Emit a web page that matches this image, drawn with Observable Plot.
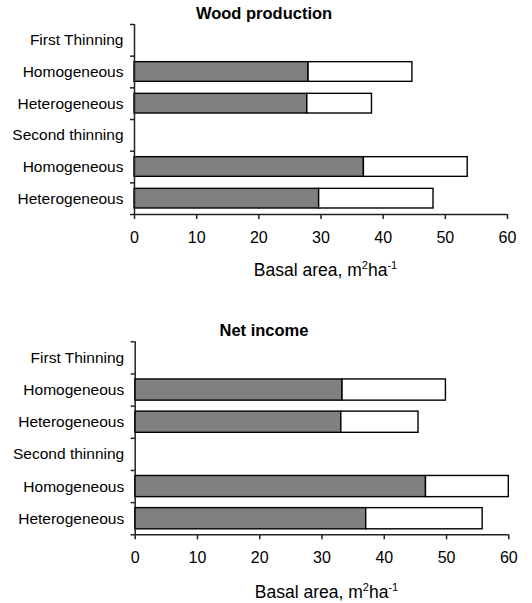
<!DOCTYPE html>
<html>
<head>
<meta charset="utf-8">
<script src="https://cdn.jsdelivr.net/npm/d3@7"></script>
<script src="https://cdn.jsdelivr.net/npm/@observablehq/plot@0.6"></script>
<style>
  body { margin: 0; background: #fff; font-family: "Liberation Sans", Arial, sans-serif; }
  #root { position: relative; width: 532px; height: 603px; overflow: hidden; }
  .panel { position: absolute; left: 0; }
  .title { position: absolute; left: 0; width: 532px; text-align: center; font-weight: bold; font-size: 16.5px; color: #000; line-height: 1; padding-left: 0; }
  .xlabel { position: absolute; text-align: center; font-size: 17.5px; color: #000; line-height: 1; }
  .xlabel sup { font-size: 11px; vertical-align: 0; position: relative; top: -7px; }
</style>
</head>
<body>
<div id="root"></div>
<script>
const rowLabels = ["First Thinning", "Homogeneous", "Heterogeneous", "Second thinning", "Homogeneous", "Heterogeneous"];
const woodRemaining = [null, 28.0, 27.8, null, 36.9, 29.7];
const woodTotal     = [null, 44.7, 38.2, null, 53.6, 48.1];
const incomeRemaining = [null, 33.3, 33.1, null, 46.7, 37.1];
const incomeTotal     = [null, 49.9, 45.5, null, 60.0, 55.8];
const xTicks = [0, 10, 20, 30, 40, 50, 60];
const panelTitles = ["Wood production", "Net income"];

function makeRows(rem, tot) {
  return rowLabels.map((label, i) => ({i, label, rem: rem[i], tot: tot[i]})).filter(d => d.rem != null);
}

function panel(rem, tot, opts) {
  const rows = makeRows(rem, tot);
  return Plot.plot({
    width: 532,
    height: opts.height,
    marginTop: opts.mt,
    marginBottom: opts.mb,
    marginLeft: opts.ml,
    marginRight: opts.mr,
    style: {fontFamily: "'Liberation Sans', Arial, sans-serif", fontSize: "15.5px", color: "#000", background: "#fff"},
    x: {domain: [0, 60]},
    y: {domain: [0, rowLabels.length], reverse: true},
    marks: [
      Plot.rect(rows, {x1: 0, x2: "rem", y1: "i", y2: d => d.i + 1, fill: "#808080", stroke: "#000", strokeWidth: 1.4, insetTop: opts.inset, insetBottom: opts.inset}),
      Plot.rect(rows, {x1: "rem", x2: "tot", y1: "i", y2: d => d.i + 1, fill: "#fff", stroke: "#000", strokeWidth: 1.4, insetTop: opts.inset, insetBottom: opts.inset}),
      Plot.ruleX([0], {stroke: "#222", strokeWidth: 1.5}),
      Plot.ruleY([rowLabels.length], {stroke: "#222", strokeWidth: 1.5}),
      Plot.axisY(d3.range(rowLabels.length + 1), {tickSize: 4, tickFormat: () => "", label: null, stroke: "#222", strokeWidth: 1.5}),
      Plot.axisY(rowLabels.map((_, i) => i + 0.5), {tickSize: 0, tickPadding: 11, tickFormat: d => rowLabels[Math.round(d - 0.5)], label: null}),
      Plot.axisX(xTicks, {tickSize: 5, tickPadding: 12, label: null, stroke: "#222", strokeWidth: 1.5, fontSize: "16px"})
    ]
  });
}

const root = document.getElementById("root");

function addPanel(top, rem, tot, opts, title, titleTop, labelTop) {
  const p = panel(rem, tot, opts);
  p.classList.add("panel");
  p.style.top = top + "px";
  root.appendChild(p);
  const t = document.createElement("div");
  t.className = "title";
  t.style.top = titleTop + "px";
  t.style.width = "528px";
  t.textContent = title;
  root.appendChild(t);
  const l = document.createElement("div");
  l.className = "xlabel";
  l.style.left = (opts.ml + 5) + "px";
  l.style.width = (532 - opts.ml - opts.mr) + "px";
  l.style.top = labelTop + "px";
  l.innerHTML = "Basal area, m<sup>2</sup>ha<sup>-1</sup>";
  root.appendChild(l);
}

addPanel(0, woodRemaining, woodTotal, {height: 300, mt: 24, mb: 86, ml: 134, mr: 25, inset: 6}, panelTitles[0], 5, 262);
addPanel(300, incomeRemaining, incomeTotal, {height: 303, mt: 41.3, mb: 68.7, ml: 134.7, mr: 23.7, inset: 5.5}, panelTitles[1], 322, 584);
</script>
</body>
</html>
